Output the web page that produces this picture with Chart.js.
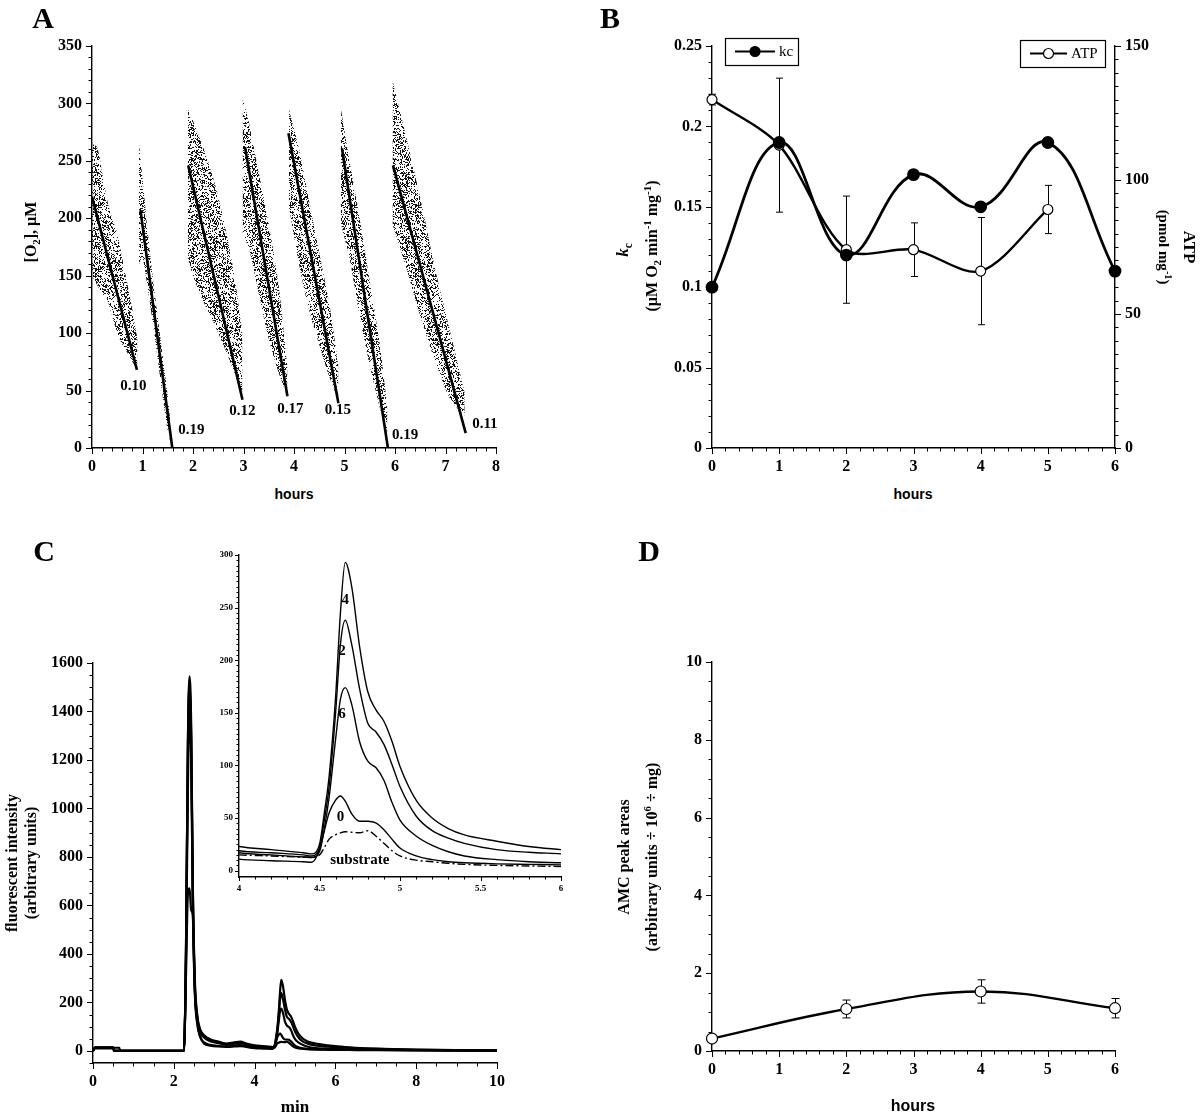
<!DOCTYPE html>
<html>
<head>
<meta charset="utf-8">
<script src="https://cdn.jsdelivr.net/npm/chart.js@4.4.1/dist/chart.umd.min.js"></script>
<style>
  body { margin: 0; background: #fff; }
  #fig { position: relative; width: 1200px; height: 1116px; overflow: hidden; font-family: 'Liberation Serif', 'Times New Roman', serif; color: #000; }
  #fig canvas { position: absolute; }
  .t { position: absolute; white-space: nowrap; font-weight: bold; line-height: 1; transform: translate(-50%, -50%); }
  .t.up { transform: translate(-50%, -50%) rotate(-90deg); }
  .t.down { transform: translate(-50%, -50%) rotate(90deg); }
  .sans { font-family: 'Liberation Sans', Arial, sans-serif; }
  .t sub, .t sup { font-size: 0.68em; line-height: 0; }
  .panel { font-size: 30px; }
</style>
</head>
<body>
<div id="fig">
  <canvas id="chartA" width="560" height="480" style="left:0;top:0"></canvas>
  <canvas id="chartB" width="600" height="480" style="left:600px;top:0"></canvas>
  <canvas id="chartC" width="560" height="576" style="left:0;top:540px"></canvas>
  <canvas id="chartInset" width="400" height="370" style="left:180px;top:530px"></canvas>
  <canvas id="chartD" width="600" height="576" style="left:600px;top:540px"></canvas>

  <div class="t panel" style="left:43px;top:18px">A</div>
  <div class="t panel" style="left:610px;top:18px">B</div>
  <div class="t panel" style="left:44px;top:551px">C</div>
  <div class="t panel" style="left:649px;top:551px">D</div>

  <div class="t up" style="left:31px;top:232px;font-size:16px">[O<sub>2</sub>], µM</div>
  <div class="t sans" style="left:294px;top:494px;font-size:14px">hours</div>

  <div class="t up" style="left:622px;top:250px;font-size:17px"><i>k</i><sub>c</sub></div>
  <div class="t up" style="left:652px;top:246px;font-size:16px">(µM O<sub>2</sub> min<sup>-1</sup> mg<sup>-1</sup>)</div>
  <div class="t down" style="left:1163px;top:247px;font-size:15px">(pmol mg<sup>-1</sup>)</div>
  <div class="t down" style="left:1189px;top:247px;font-size:17px">ATP</div>
  <div class="t sans" style="left:913px;top:494px;font-size:14px">hours</div>

  <div class="t up" style="left:12px;top:863px;font-size:16px">fluorescent intensity</div>
  <div class="t up" style="left:31px;top:863px;font-size:16px">(arbitrary units)</div>
  <div class="t" style="left:295px;top:1106px;font-size:17px">min</div>

  <div class="t up" style="left:624px;top:857px;font-size:16px">AMC peak areas</div>
  <div class="t up" style="left:652px;top:857px;font-size:16px">(arbitrary units ÷ 10<sup>6</sup> ÷ mg)</div>
  <div class="t sans" style="left:913px;top:1106px;font-size:16px">hours</div>
</div>

<script>
// --- DATA: panel A (oxygen traces, scatter envelopes + fitted lines) ---
const cloud1X = [0, 0.1, 0.2, 0.3, 0.4, 0.5, 0.6, 0.7, 0.8, 0.9];
const cloud1Hi = [265, 262, 240, 216, 200, 187, 165, 143, 120, 95];
const cloud1Lo = [150, 142, 135, 129, 115, 100, 90, 83, 75, 68];
const cloud2X = [0.93, 1.0, 1.1, 1.2, 1.3, 1.4, 1.5, 1.57];
const cloud2Hi = [265, 235, 190, 150, 115, 80, 45, 15];
const cloud2Lo = [160, 165, 140, 110, 78, 45, 15, 3];
const cloud3X = [1.9, 2.0, 2.2, 2.4, 2.6, 2.8, 2.98];
const cloud3Hi = [295, 285, 262, 235, 200, 155, 100];
const cloud3Lo = [165, 150, 128, 110, 90, 68, 48];
const cloud4X = [2.98, 3.1, 3.3, 3.5, 3.7, 3.87];
const cloud4Hi = [305, 285, 240, 195, 140, 70];
const cloud4Lo = [185, 175, 135, 95, 65, 45];
const cloud5X = [3.9, 4.1, 4.3, 4.5, 4.7, 4.88];
const cloud5Hi = [295, 260, 215, 170, 125, 72];
const cloud5Lo = [210, 160, 120, 90, 62, 42];
const cloud6X = [4.93, 5.1, 5.3, 5.5, 5.7, 5.85];
const cloud6Hi = [295, 250, 200, 145, 90, 35];
const cloud6Lo = [195, 165, 115, 72, 35, 12];
const cloud7X = [5.95, 6.2, 6.5, 6.8, 7.1, 7.38];
const cloud7Hi = [320, 275, 218, 155, 100, 48];
const cloud7Lo = [195, 160, 115, 75, 42, 28];

const fitX0 = [0, 0.96, 1.905, 3.03, 3.89, 4.95, 5.96];
const fitY0 = [219, 207, 246, 262, 274, 261, 246];
const fitX1 = [0.89, 1.59, 2.98, 3.87, 4.88, 5.86, 7.40];
const fitY1 = [68, 0, 42, 45, 39, 0, 13];

const rateLabels = ['0.10', '0.19', '0.12', '0.17', '0.15', '0.19', '0.11'];
const rateLabelX = [0.82, 1.97, 2.98, 3.93, 4.87, 6.2, 7.78];
const rateLabelY = [53.6, 15.4, 31.8, 33.9, 32.7, 11.6, 20.9];

// --- DATA: panel B ---
const hoursB = [0, 1, 2, 3, 4, 5, 6];
const kcValues = [0.10, 0.19, 0.12, 0.17, 0.15, 0.19, 0.11];
const atpHours = [0, 1, 2, 3, 4, 5];
const atpValues = [130, 113, 74, 74, 66, 89];
const atpErrors = [2, 25, 20, 10, 20, 9];

// --- DATA: panel C (chromatograms, same traces used in the inset) ---
const minutes = [0, 0.05, 0.5, 0.52, 0.65, 0.67, 2.25, 2.3, 2.35, 2.39, 2.43, 2.47, 2.52, 2.58, 2.65, 2.75, 2.9, 3.1, 3.3, 3.5, 3.65, 3.8,
  4.0, 4.2, 4.4, 4.45, 4.5, 4.53, 4.56, 4.6, 4.63, 4.66, 4.7, 4.75, 4.8, 4.85, 4.9, 4.95, 5.0, 5.1, 5.2, 5.3, 5.4, 5.6, 5.8, 6.0,
  6.5, 7, 8, 9, 10];
const trace4h = [0, 14, 14, 0, 0, 0, 0, 400, 1300, 1545, 1350, 700, 300, 150, 90, 65, 48, 38, 30, 35, 38, 30,
  23, 20, 17, 16, 25, 55, 90, 165, 245, 293, 270, 212, 170, 153, 142, 123, 99, 67, 50, 40, 34, 28, 23, 20,
  13, 9, 5, 3, 2];
const trace2h = [0, 12, 12, 0, 0, 0, 0, 380, 1250, 1530, 1300, 680, 280, 140, 85, 60, 45, 36, 28, 33, 36, 27,
  19, 17, 15, 14, 22, 48, 80, 150, 215, 238, 215, 172, 140, 132, 120, 101, 80, 52, 38, 31, 26, 20, 17.5, 16,
  11, 8, 4, 2.5, 1.5];
const trace6h = [0, 15, 15, 0, 0, 0, 0, 390, 1280, 1510, 1280, 650, 260, 130, 80, 55, 40, 32, 25, 30, 32, 25,
  17, 15, 13, 12.5, 18, 40, 70, 125, 163, 174, 158, 122, 104, 98, 86, 65, 48, 33, 24, 18, 14, 10.5, 8.5, 7.5,
  6, 5, 3, 2, 1];
const trace0h = [0, 13, 13, 13, 13, 0, 0, 300, 650, 670, 580, 560, 250, 120, 60, 35, 25, 20, 18, 22, 24, 16,
  11, 9.5, 8.5, 8, 20, 38, 55, 67, 71, 66, 54, 47, 47, 45.5, 39, 30, 21.5, 14, 10.5, 8.5, 7.5, 6.5, 6, 5.5,
  5, 4, 2.5, 1.5, 1];
const substrate = [0, 10, 10, 0, 0, 0, 0, 350, 1100, 1400, 1200, 600, 240, 110, 60, 30, 22, 18, 16, 18, 20, 17,
  15, 14, 13, 13, 15, 22, 30, 34, 36, 37, 36.5, 36, 38, 33, 26, 19, 14, 10, 8.5, 7, 6, 5, 4.5, 4,
  3.5, 3, 2, 1, 0.5];

const insetLabels = ['4', '2', '6', '0', 'substrate'];
const insetLabelX = [4.66, 4.64, 4.64, 4.63, 4.75];
const insetLabelY = [257, 209, 149, 51, 10];

// --- DATA: panel D ---
const hoursD = [0, 2, 4, 6];
const amcValues = [0.32, 1.08, 1.53, 1.1];
const amcErrors = [0.05, 0.23, 0.3, 0.25];

// --- HELPERS ---
const serif = "'Liberation Serif', 'Times New Roman', serif";
const pts = (xs, ys) => xs.map((x, i) => ({ x, y: ys[i] }));

const majorValues = (min, max, step) => {
    const out = [];
    for (let v = Math.ceil(min / step - 1e-9) * step; v <= max + 1e-9; v += step) out.push(+v.toFixed(6));
    return out;
};

const axis = (min, max, major, o = {}) => ({
    type: 'linear', min, max,
    position: o.position,
    grid: { display: false, drawTicks: false },
    border: { display: true, color: '#000', width: 1.4 },
    ticks: {
        font: { family: serif, weight: 'bold', size: o.size || 16 },
        color: '#000', padding: o.pad ?? 9, autoSkip: false, maxRotation: 0,
        callback: v => String(+Number(v).toFixed(4))
    },
    afterBuildTicks: s => { s.ticks = majorValues(min, max, major).map(value => ({ value })); },
    afterFit: s => { if (s.isHorizontal()) s.height = o.thick; else s.width = o.thick; }
});

// minor + major tick marks drawn outward from each axis line
const tickMarks = {
    id: 'tickMarks',
    afterDraw(chart, args, opts) {
        const { ctx } = chart;
        ctx.save();
        ctx.strokeStyle = '#000';
        ctx.lineWidth = 1;
        Object.keys(opts.axes || {}).forEach(id => {
            const scale = chart.scales[id];
            const spec = opts.axes[id];
            const start = spec.from ?? scale.min;
            const n = Math.round((scale.max - start) / spec.minor);
            for (let i = 0; i <= n; i++) {
                const v = start + i * spec.minor;
                const r = v / spec.major;
                const len = Math.abs(r - Math.round(r)) < 1e-6 ? (opts.majorLen || 6) : (opts.minorLen || 3.5);
                const p = Math.round(scale.getPixelForValue(v)) + 0.5;
                ctx.beginPath();
                if (scale.isHorizontal()) { ctx.moveTo(p, scale.top); ctx.lineTo(p, scale.top + len); }
                else if (scale.position === 'left') { ctx.moveTo(scale.right, p); ctx.lineTo(scale.right - len, p); }
                else { ctx.moveTo(scale.left, p); ctx.lineTo(scale.left + len, p); }
                ctx.stroke();
            }
        });
        ctx.restore();
    }
};

const errorBars = {
    id: 'errorBars',
    beforeDatasetsDraw(chart, args, opts) {
        const { ctx } = chart;
        ctx.save();
        ctx.strokeStyle = '#000';
        ctx.lineWidth = 1;
        (opts.sets || []).forEach(set => {
            const meta = chart.getDatasetMeta(set.dataset);
            const xs = chart.scales[meta.xAxisID], ys = chart.scales[meta.yAxisID];
            chart.data.datasets[set.dataset].data.forEach((p, i) => {
                const e = set.errors[i];
                if (!e) return;
                const px = Math.round(xs.getPixelForValue(p.x)) + 0.5;
                const top = ys.getPixelForValue(p.y + e), bot = ys.getPixelForValue(p.y - e);
                const cap = set.cap || 3.5;
                ctx.beginPath();
                ctx.moveTo(px, top); ctx.lineTo(px, bot);
                ctx.moveTo(px - cap, top); ctx.lineTo(px + cap, top);
                ctx.moveTo(px - cap, bot); ctx.lineTo(px + cap, bot);
                ctx.stroke();
            });
        });
        ctx.restore();
    }
};

const textLabels = {
    id: 'textLabels',
    afterDatasetsDraw(chart, args, opts) {
        if (!opts.texts) return;
        const { ctx, scales: { x, y } } = chart;
        ctx.save();
        ctx.font = opts.font;
        ctx.fillStyle = '#000';
        ctx.textAlign = 'center';
        ctx.textBaseline = 'middle';
        opts.texts.forEach((t, i) => ctx.fillText(t, x.getPixelForValue(opts.xs[i]), y.getPixelForValue(opts.ys[i])));
        ctx.restore();
    }
};

const boxLegend = {
    id: 'boxLegend',
    afterDraw(chart, args, opts) {
        const { ctx } = chart;
        (opts.items || []).forEach(it => {
            const ds = chart.data.datasets[it.dataset];
            const midY = it.top + it.height / 2;
            ctx.save();
            ctx.strokeStyle = '#000';
            ctx.lineWidth = 1.2;
            ctx.strokeRect(it.left + 0.5, it.top + 0.5, it.width, it.height);
            ctx.lineWidth = 2;
            ctx.beginPath();
            ctx.moveTo(it.left + 10, midY); ctx.lineTo(it.left + 10 + it.line, midY);
            ctx.stroke();
            ctx.beginPath();
            ctx.arc(it.left + 10 + it.line / 2, midY, ds.pointRadius, 0, Math.PI * 2);
            ctx.fillStyle = ds.pointBackgroundColor;
            ctx.fill();
            ctx.lineWidth = 1.2;
            ctx.stroke();
            ctx.fillStyle = '#000';
            ctx.font = `15px ${serif}`;
            ctx.textBaseline = 'middle';
            ctx.fillText(ds.label, it.left + 14 + it.line, midY + 1);
            ctx.restore();
        });
    }
};

const baseOptions = (padding) => ({
    responsive: false,
    animation: false,
    events: [],
    layout: { padding },
    plugins: { legend: { display: false }, tooltip: { enabled: false } }
});

// speckle texture standing in for the dense raw oxygen readings
const makeSpeckle = () => {
    const c = document.createElement('canvas');
    c.width = c.height = 64;
    const g = c.getContext('2d');
    const img = g.createImageData(64, 64);
    for (let i = 0; i < 64 * 64; i++) {
        let h = Math.imul(i ^ (i >>> 3), 0x9E3779B1);
        h ^= h >>> 15; h = Math.imul(h, 0x85EBCA77); h ^= h >>> 13;
        if ((h >>> 0) % 1000 < 340) img.data[i * 4 + 3] = 235;
    }
    g.putImageData(img, 0, 0);
    return g.createPattern(c, 'repeat');
};

// --- PANEL A ---
const speckle = makeSpeckle();
const clouds = [
    [cloud1X, cloud1Hi, cloud1Lo], [cloud2X, cloud2Hi, cloud2Lo], [cloud3X, cloud3Hi, cloud3Lo],
    [cloud4X, cloud4Hi, cloud4Lo], [cloud5X, cloud5Hi, cloud5Lo], [cloud6X, cloud6Hi, cloud6Lo],
    [cloud7X, cloud7Hi, cloud7Lo]
];
const datasetsA = [];
clouds.forEach(([xs, hi, lo]) => {
    datasetsA.push({ data: pts(xs, hi), borderColor: 'rgba(0,0,0,0)', pointRadius: 0, tension: 0.3, fill: '+1', backgroundColor: speckle });
    datasetsA.push({ data: pts(xs, lo), borderColor: 'rgba(0,0,0,0)', pointRadius: 0, tension: 0.3, fill: false });
});
fitX0.forEach((x0, i) => {
    datasetsA.push({
        data: [{ x: x0, y: fitY0[i] }, { x: fitX1[i], y: fitY1[i] }],
        borderColor: '#000', borderWidth: 2.6, pointRadius: 0, fill: false
    });
});

new Chart(document.getElementById('chartA'), {
    type: 'line',
    data: { datasets: datasetsA },
    options: {
        ...baseOptions({ left: 42, right: 64, top: 46, bottom: 0 }),
        scales: {
            x: axis(0, 8, 1, { thick: 32, pad: 9 }),
            y: axis(0, 350, 50, { thick: 50, pad: 10 })
        },
        plugins: {
            legend: { display: false }, tooltip: { enabled: false },
            tickMarks: { axes: { x: { minor: 0.2, major: 1 }, y: { minor: 10, major: 50 } } },
            textLabels: { texts: rateLabels, xs: rateLabelX, ys: rateLabelY, font: `bold 15px ${serif}` }
        }
    },
    plugins: [tickMarks, textLabels]
});

// --- PANEL B ---
new Chart(document.getElementById('chartB'), {
    type: 'line',
    data: {
        datasets: [
            {
                label: 'kc', data: pts(hoursB, kcValues), yAxisID: 'y', clip: false,
                borderColor: '#000', borderWidth: 2.8, tension: 0.4, fill: false,
                pointRadius: 5, pointBackgroundColor: '#000', pointBorderColor: '#000'
            },
            {
                label: 'ATP', data: pts(atpHours, atpValues), yAxisID: 'y1', clip: false,
                borderColor: '#000', borderWidth: 2.4, tension: 0.3, fill: false,
                pointRadius: 5, pointBackgroundColor: '#fff', pointBorderColor: '#000', pointBorderWidth: 1.2
            }
        ]
    },
    options: {
        ...baseOptions({ left: 62, right: 35, top: 46, bottom: 0 }),
        scales: {
            x: axis(0, 6, 1, { thick: 32, pad: 9 }),
            y: axis(0, 0.25, 0.05, { thick: 50, pad: 10, position: 'left' }),
            y1: axis(0, 150, 50, { thick: 50, pad: 10, position: 'right' })
        },
        plugins: {
            legend: { display: false }, tooltip: { enabled: false },
            tickMarks: { axes: { x: { minor: 0.2, major: 1 }, y: { minor: 0.01, major: 0.05 }, y1: { minor: 5, major: 50 } } },
            errorBars: { sets: [{ dataset: 1, errors: atpErrors, cap: 3.5 }] },
            boxLegend: {
                items: [
                    { dataset: 0, left: 125, top: 38, width: 73, height: 27, line: 40 },
                    { dataset: 1, left: 420, top: 40, width: 85, height: 27, line: 37 }
                ]
            }
        }
    },
    plugins: [tickMarks, errorBars, boxLegend]
});

// --- PANEL C (main + inset share the same traces) ---
const traceSets = [trace4h, trace2h, trace6h, trace0h, substrate];
const traceDatasets = (width, dashSubstrate) => traceSets.map(vals => ({
    data: pts(minutes, vals),
    borderColor: '#000', borderWidth: width, pointRadius: 0, fill: false,
    cubicInterpolationMode: 'monotone',
    borderDash: dashSubstrate && vals === substrate ? [8, 3, 2, 3] : []
}));

new Chart(document.getElementById('chartC'), {
    type: 'line',
    data: { datasets: traceDatasets(2.2, false) },
    options: {
        ...baseOptions({ left: 38, right: 63, top: 123, bottom: 21 }),
        scales: {
            x: axis(0, 10, 2, { thick: 32, pad: 9 }),
            y: axis(-50, 1600, 200, { thick: 55, pad: 10 })
        },
        plugins: {
            legend: { display: false }, tooltip: { enabled: false },
            tickMarks: { axes: { x: { minor: 0.5, major: 2 }, y: { minor: 50, major: 200, from: -50 } } }
        }
    },
    plugins: [tickMarks]
});

new Chart(document.getElementById('chartInset'), {
    type: 'line',
    data: { datasets: traceDatasets(1.4, true) },
    options: {
        ...baseOptions({ left: 29, right: 19, top: 25, bottom: 5 }),
        scales: {
            x: axis(4, 6, 0.5, { thick: 18, pad: 6, size: 9 }),
            y: axis(-6, 300, 50, { thick: 30, pad: 6, size: 9 })
        },
        plugins: {
            legend: { display: false }, tooltip: { enabled: false },
            tickMarks: { majorLen: 4, minorLen: 2.5, axes: { x: { minor: 0.1, major: 0.5 }, y: { minor: 5, major: 50, from: 0 } } },
            textLabels: { texts: insetLabels, xs: insetLabelX, ys: insetLabelY, font: `bold 15px ${serif}` }
        }
    },
    plugins: [tickMarks, textLabels]
});

// --- PANEL D ---
new Chart(document.getElementById('chartD'), {
    type: 'line',
    data: {
        datasets: [{
            label: 'AMC', data: pts(hoursD, amcValues), clip: false,
            borderColor: '#000', borderWidth: 2.4, tension: 0.4, fill: false,
            pointRadius: 5.5, pointBackgroundColor: '#fff', pointBorderColor: '#000', pointBorderWidth: 1.2
        }]
    },
    options: {
        ...baseOptions({ left: 62, right: 85, top: 122, bottom: 33 }),
        scales: {
            x: axis(0, 6, 1, { thick: 32, pad: 9 }),
            y: axis(0, 10, 2, { thick: 50, pad: 10 })
        },
        plugins: {
            legend: { display: false }, tooltip: { enabled: false },
            tickMarks: { axes: { x: { minor: 0.2, major: 1 }, y: { minor: 0.5, major: 2 } } },
            errorBars: { sets: [{ dataset: 0, errors: amcErrors, cap: 4 }] }
        }
    },
    plugins: [tickMarks, errorBars]
});
</script>
</body>
</html>
